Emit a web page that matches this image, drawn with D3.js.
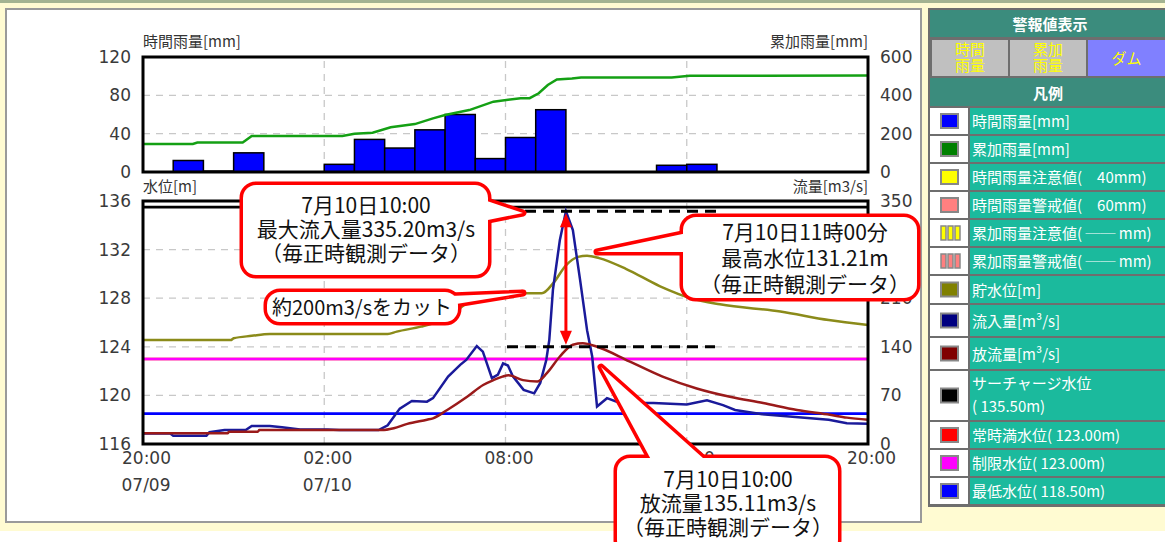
<!DOCTYPE html>
<html>
<head>
<meta charset="utf-8">
<script src="https://cdn.jsdelivr.net/npm/d3@7"></script>
<style>
  body { margin: 0; background: #fff; }
  svg { display: block; font-family: "Noto Sans CJK JP", sans-serif; }
</style>
</head>
<body>
<svg id="chart" width="1165" height="542"></svg>
<script>
// ---- data (hours counted from 07/09 20:00) ----
var hourTicks = [0, 6, 12, 18, 24];
var hourLabels = ["20:00", "02:00", "08:00", "14:00", "20:00"];
var dateLabels = ["07/09", "07/10", "", "", ""];

var rainTicks = [0, 40, 80, 120];
var cumTicks = [0, 200, 400, 600];
var levelTicks = [116, 120, 124, 128, 132, 136];
var flowTicks = [0, 70, 140, 210, 280, 350];

// hourly rain, one bar per hour
var rainHourly = [0, 12, 1, 20, 0, 0, 8, 34, 25, 44, 60, 14, 36, 65, 0, 0, 0, 7, 8, 0, 0, 0, 0, 0];

var cumHour = [0, 1.65, 1.8, 3.3, 3.6, 6.6, 7.0, 7.6, 8.2, 9.0, 9.6, 10.0, 10.8, 11.6, 12.5, 12.8, 13.1, 13.4, 13.7, 14.2, 14.5, 17.5, 18.1, 24];
var cumRain = [146, 146, 154, 154, 188, 188, 200, 205, 233, 250, 280, 297, 323, 367, 385, 385, 411, 454, 483, 488, 493, 493, 502, 503];

var levelHour = [0, 2.9, 3.0, 3.6, 4.2, 8.1, 8.4, 9.2, 9.6, 10.26, 10.73, 11.2, 11.6, 13.2, 13.6, 14.0, 14.4, 14.7, 15.1, 16.0, 17.1, 18.2, 19.1, 21.1, 22.7, 24];
var level = [124.55, 124.55, 124.7, 124.9, 125.05, 125.05, 125.25, 125.66, 125.93, 126.75, 127.6, 128.2, 128.4, 128.4, 129.3, 130.7, 131.4, 131.5, 131.3, 130.4, 129.0, 127.95, 127.5, 126.9, 126.2, 125.8];

var inflowHour = [0, 0.9, 1.0, 2.1, 2.2, 2.7, 3.4, 3.6, 4.2, 4.6, 5.2, 6.1, 6.5, 7.8, 8.1, 8.5, 8.9, 9.4, 9.6, 10.1, 10.5, 10.7, 11.05, 11.25, 11.55, 11.75, 11.92, 12.08, 12.25, 12.6, 12.95, 13.15, 13.35, 13.45, 13.57, 13.8, 14.0, 14.23, 14.47, 14.7, 14.87, 15.03, 15.36, 15.79, 16.9, 18.0, 18.67, 19.2, 19.6, 20.5, 21.6, 22.7, 23.3, 24];
var inflow = [15, 15, 12, 12, 17, 20, 20, 26, 26, 24, 21, 21, 20, 20, 27, 51, 62, 61, 66, 97, 114, 121, 141, 133, 95, 100, 116, 113, 97, 78, 73, 88, 121, 150, 222, 294, 335.2, 308, 236, 164, 126, 54, 66, 59, 59, 57, 63, 56, 49, 43, 39, 35, 30, 29];

var outflowHour = [0, 2.8, 2.85, 3.8, 3.85, 7.9, 8.3, 8.75, 9.4, 9.6, 10.07, 10.73, 11.26, 11.6, 11.9, 12.1, 12.58, 13.05, 13.37, 13.8, 14.23, 14.56, 15.03, 16.1, 17.2, 18.33, 19.43, 20.53, 21.65, 22.74, 23.3, 24];
var outflow = [15.4, 15.4, 17.7, 17.7, 20, 20, 22.6, 29, 35, 37, 49, 68, 85, 92, 97, 99, 92, 90, 102, 126, 143, 145, 140, 119, 97, 80, 68, 59, 49, 42, 38, 35];

// reference water levels: surcharge, normal full, restricted, minimum
var refLevels = [135.5, 123.0, 123.0, 118.5];
var refColors = ["#000", "#ff0000", "#ff00ff", "#0000ff"];

var peakInflow = 335.2;   // 10:00
var peakOutflowMark = 140;
var peakHour = 14;

var legendLabels = [
  ["時間雨量[mm]"], ["累加雨量[mm]"], ["時間雨量注意値(　40mm)"], ["時間雨量警戒値(　60mm)"],
  ["累加雨量注意値( ── mm)"], ["累加雨量警戒値( ── mm)"], ["貯水位[m]"], ["流入量[m³/s]"],
  ["放流量[m³/s]"], ["サーチャージ水位", "( 135.50m)"], ["常時満水位( 123.00m)"],
  ["制限水位( 123.00m)"], ["最低水位( 118.50m)"]
];
var legendColors = ["#0000ff", "#008000", "#ffff00", "#ff8080", "#ffff00", "#ff8080",
  "#808000", "#000080", "#800000", "#000000", "#ff0000", "#ff00ff", "#0000ff"];

// ---- page ----
var svg = d3.select("#chart");
svg.append("rect").attr("width", 1165).attr("height", 542).attr("fill", "#fff");
svg.append("rect").attr("x", 0).attr("y", 3).attr("width", 1165).attr("height", 528).attr("fill", "#fffbd2");
svg.append("rect").attr("x", 0).attr("y", 0).attr("width", 1165).attr("height", 3).attr("fill", "#a3b391");
svg.append("rect").attr("x", 6).attr("y", 9).attr("width", 915).attr("height", 513)
  .attr("fill", "#fff").attr("stroke", "#9a9a9a").attr("stroke-width", 2);

var left = 143, right = 868;
var x = d3.scaleLinear().domain([0, 24]).range([left, right]);
var yRain = d3.scaleLinear().domain([0, 120]).range([172, 57]);
var yCum = d3.scaleLinear().domain([0, 600]).range([172, 57]);
var yLevel = d3.scaleLinear().domain([116, 136]).range([444, 201]);
var yFlow = d3.scaleLinear().domain([0, 350]).range([444, 201]);

function grid(yScale, vals) {
  var g = svg.append("g").attr("stroke", "#c8c8c8").attr("stroke-width", 1.3).attr("stroke-dasharray", "7,6");
  g.selectAll("line.h").data(vals).enter().append("line")
    .attr("x1", left).attr("x2", right)
    .attr("y1", function (d) { return yScale(d); }).attr("y2", function (d) { return yScale(d); });
  g.selectAll("line.v").data([6, 12, 18]).enter().append("line")
    .attr("x1", function (d) { return x(d); }).attr("x2", function (d) { return x(d); })
    .attr("y1", yScale.range()[0]).attr("y2", yScale.range()[1]);
}

function styleAxis(g) {
  g.select(".domain").remove();
  g.attr("font-family", "DejaVu Sans").attr("font-size", 17);
  g.selectAll("text").attr("fill", "#3a3a3a");
}

function title(tx, ty, anchor, s) {
  svg.append("text").attr("x", tx).attr("y", ty).attr("text-anchor", anchor)
    .style("font-size", "15px").attr("fill", "#333").text(s);
}

// ---- top chart: rain ----
grid(yRain, [40, 80]);

svg.append("g").selectAll("rect").data(rainHourly).enter().append("rect")
  .attr("x", function (d, i) { return x(i); })
  .attr("width", x(1) - x(0))
  .attr("y", function (d) { return yRain(d); })
  .attr("height", function (d) { return yRain(0) - yRain(d); })
  .attr("fill", "#0000ff").attr("stroke", "#000").attr("stroke-width", 1.5);

svg.append("path").datum(cumHour)
  .attr("d", d3.line().x(function (d) { return x(d); }).y(function (d, i) { return yCum(cumRain[i]); }))
  .attr("fill", "none").attr("stroke", "#14a014").attr("stroke-width", 2.5);

svg.append("rect").attr("x", left).attr("y", 57).attr("width", right - left).attr("height", 115)
  .attr("fill", "none").attr("stroke", "#000").attr("stroke-width", 3);

svg.append("g").attr("transform", "translate(" + left + ",0)")
  .call(d3.axisLeft(yRain).tickValues(rainTicks).tickSize(0).tickPadding(12)).call(styleAxis);
svg.append("g").attr("transform", "translate(" + right + ",0)")
  .call(d3.axisRight(yCum).tickValues(cumTicks).tickSize(0).tickPadding(12)).call(styleAxis);

title(left, 47, "start", "時間雨量[mm]");
title(right, 47, "end", "累加雨量[mm]");
title(left, 192, "start", "水位[m]");
title(right, 192, "end", "流量[m3/s]");

// ---- bottom chart: water level & flow ----
grid(yLevel, [120, 124, 128, 132]);

svg.append("g").selectAll("line").data(refLevels).enter().append("line")
  .attr("x1", left).attr("x2", right)
  .attr("y1", function (d) { return yLevel(d); }).attr("y2", function (d) { return yLevel(d); })
  .attr("stroke", function (d, i) { return refColors[i]; }).attr("stroke-width", 2.6);

function series(hours, vals, yScale, color, curve) {
  svg.append("path").datum(hours)
    .attr("d", d3.line().curve(curve).x(function (d) { return x(d); }).y(function (d, i) { return yScale(vals[i]); }))
    .attr("fill", "none").attr("stroke", color).attr("stroke-width", 2.5);
}
series(levelHour, level, yLevel, "#8b8b1a", d3.curveMonotoneX);
series(inflowHour, inflow, yFlow, "#1a1a9a", d3.curveLinear);
series(outflowHour, outflow, yFlow, "#9a1a1a", d3.curveMonotoneX);

svg.append("rect").attr("x", left).attr("y", 201).attr("width", right - left).attr("height", 243)
  .attr("fill", "none").attr("stroke", "#000").attr("stroke-width", 3);

svg.append("g").attr("transform", "translate(" + left + ",0)")
  .call(d3.axisLeft(yLevel).tickValues(levelTicks).tickSize(0).tickPadding(12)).call(styleAxis);
svg.append("g").attr("transform", "translate(" + right + ",0)")
  .call(d3.axisRight(yFlow).tickValues(flowTicks).tickSize(0).tickPadding(12)).call(styleAxis);

var xAxis = svg.append("g").attr("transform", "translate(0,444)")
  .call(d3.axisBottom(x).tickValues(hourTicks).tickSize(0).tickPadding(8)
    .tickFormat(function (d, i) { return hourLabels[i]; }))
  .call(styleAxis);
xAxis.selectAll("text").attr("dx", 3);
svg.append("g").attr("font-family", "DejaVu Sans").attr("font-size", 17).attr("fill", "#3a3a3a")
  .selectAll("text").data(dateLabels).enter().append("text")
  .attr("x", function (d, i) { return x(hourTicks[i]) + 3; }).attr("y", 491)
  .attr("text-anchor", "middle").text(function (d) { return d; });

// ---- annotations ----
var dash = svg.append("g").attr("stroke", "#000").attr("stroke-width", 3).attr("stroke-dasharray", "11,7");
dash.append("line").attr("x1", 507).attr("x2", 720).attr("y1", yFlow(peakInflow)).attr("y2", yFlow(peakInflow));
dash.append("line").attr("x1", 507).attr("x2", 715).attr("y1", yFlow(peakOutflowMark)).attr("y2", yFlow(peakOutflowMark));

var ax = x(peakHour), ay1 = yFlow(peakInflow) + 2, ay2 = yFlow(peakOutflowMark) - 2;
svg.append("line").attr("x1", ax).attr("x2", ax).attr("y1", ay1 + 10).attr("y2", ay2 - 10)
  .attr("stroke", "#f00").attr("stroke-width", 3);
svg.append("path").attr("d", "M" + ax + "," + ay1 + "l-6,14h12z").attr("fill", "#f00");
svg.append("path").attr("d", "M" + ax + "," + ay2 + "l-6,-14h12z").attr("fill", "#f00");

function callout(box, wedge, lines, cx, base, gap, size) {
  var g = svg.append("g");
  var wd = "M" + wedge.map(function (p) { return p.join(","); }).join("L") + "Z";
  g.append("path").attr("d", wd).attr("fill", "none").attr("stroke", "#f00")
    .attr("stroke-width", 7).attr("stroke-linejoin", "round");
  g.append("rect").attr("x", box[0]).attr("y", box[1]).attr("width", box[2]).attr("height", box[3])
    .attr("rx", 13).attr("fill", "none").attr("stroke", "#f00").attr("stroke-width", 7);
  g.append("path").attr("d", wd).attr("fill", "#fff");
  g.append("rect").attr("x", box[0]).attr("y", box[1]).attr("width", box[2]).attr("height", box[3])
    .attr("rx", 13).attr("fill", "#fff");
  g.selectAll("text").data(lines).enter().append("text")
    .attr("x", cx).attr("y", function (d, i) { return base + i * gap; })
    .attr("text-anchor", "middle").attr("fill", "#111").style("font-size", size + "px")
    .text(function (d) { return d; });
}

callout([243, 185, 245, 90], [[478, 198], [523, 213], [478, 222]],
  ["7月10日10:00", "最大流入量335.20m3/s", "（毎正時観測データ）"], 366, 213, 24, 21);
callout([267, 292, 191, 30], [[450, 296], [523, 293], [450, 305]],
  ["約200m3/sをカット"], 362, 315, 24, 20);
callout([683, 217, 234, 81], [[692, 232], [597, 252], [692, 252]],
  ["7月10日11時00分", "最高水位131.21m", "（毎正時観測データ）"], 805, 240, 26, 21);
callout([617, 458, 221, 95], [[655, 467], [601, 367], [713, 467]],
  ["7月10日10:00", "放流量135.11m3/s", "（毎正時観測データ）"], 728, 487, 24, 21);

// ---- legend panel ----
var lp = svg.append("g");
lp.append("rect").attr("x", 928).attr("y", 8).attr("width", 237).attr("height", 499).attr("fill", "#6e6e6e");
lp.append("rect").attr("x", 930).attr("y", 10).attr("width", 235).attr("height", 27).attr("fill", "#3b8c7d");
lp.append("text").attr("x", 1050).attr("y", 30).attr("text-anchor", "middle").attr("fill", "#fff")
  .style("font-size", "15px").style("font-weight", "bold").text("警報値表示");

var btn = [[932, 76, "#c0c0c0", ["時間", "雨量"]], [1010, 76, "#c0c0c0", ["累加", "雨量"]], [1088, 77, "#8080ff", ["ダム"]]];
btn.forEach(function (b) {
  lp.append("rect").attr("x", b[0]).attr("y", 40).attr("width", b[1]).attr("height", 36).attr("fill", b[2]);
  b[3].forEach(function (s, i) {
    lp.append("text").attr("x", b[0] + b[1] / 2).attr("text-anchor", "middle")
      .attr("y", b[3].length > 1 ? 55 + i * 16 : 64).attr("fill", "#ffff00")
      .style("font-size", "15px").text(s);
  });
});
lp.append("rect").attr("x", 930).attr("y", 78).attr("width", 235).attr("height", 28).attr("fill", "#3b8c7d");
lp.append("text").attr("x", 1048).attr("y", 99).attr("text-anchor", "middle").attr("fill", "#fff")
  .style("font-size", "15px").style("font-weight", "bold").text("凡例");

var rowH = [28, 28, 28, 28, 28, 28, 29, 33, 33, 51, 28, 28, 28];
var rowTop = 107;
legendLabels.forEach(function (lab, i) {
  var h = rowH[i], cy = rowTop + h / 2;
  lp.append("rect").attr("x", 930).attr("y", rowTop + 1).attr("width", 38).attr("height", h - 2).attr("fill", "#fff");
  lp.append("rect").attr("x", 970).attr("y", rowTop + 1).attr("width", 195).attr("height", h - 2).attr("fill", "#1bba9d");
  if (i === 4 || i === 5) {
    [941, 948, 955].forEach(function (bx) {
      lp.append("rect").attr("x", bx).attr("y", cy - 7).attr("width", 5).attr("height", 14)
        .attr("fill", legendColors[i]).attr("stroke", "#888").attr("stroke-width", 1.5);
    });
  } else {
    lp.append("rect").attr("x", 941).attr("y", cy - 7).attr("width", 17).attr("height", 14)
      .attr("fill", legendColors[i]).attr("stroke", "#888").attr("stroke-width", 2);
  }
  lab.forEach(function (s, j) {
    lp.append("text").attr("x", 972)
      .attr("y", lab.length > 1 ? rowTop + 19 + j * 23 : cy + 6)
      .attr("fill", "#fff").style("font-size", "15px").text(s);
  });
  rowTop += h;
});
</script>
</body>
</html>
